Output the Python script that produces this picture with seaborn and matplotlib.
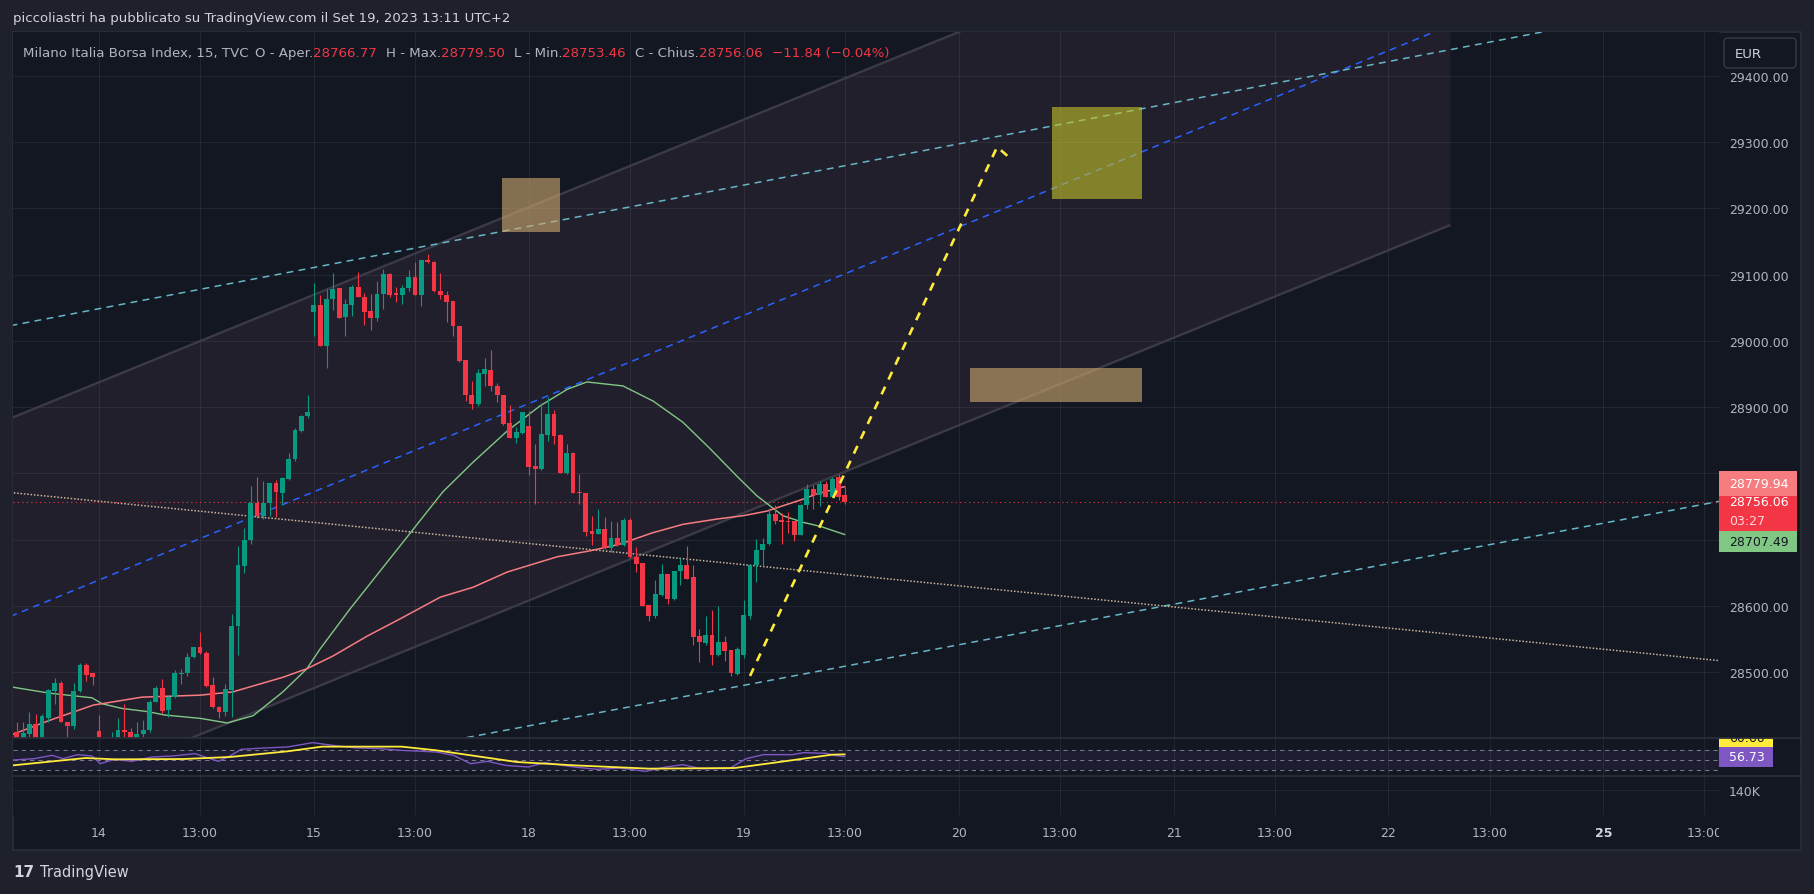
import matplotlib
matplotlib.use("Agg")
import matplotlib.pyplot as plt
from matplotlib.patches import Rectangle, FancyBboxPatch
import numpy as np
import pandas as pd
import seaborn as sns

# ---------------- data ----------------
bar_index = list(range(21, 153))  # 15-min bars, 34 bars per trading day, bar 34 = Sep 14 09:00

opens = [28409, 28401, 28407, 28422, 28401, 28431, 28472, 28484, 28425, 28418,
         28472, 28511, 28498, 28411, 28393, 28385, 28398, 28413, 28409, 28395,
         28406, 28412, 28455, 28476, 28442, 28462, 28497, 28498, 28522, 28537,
         28529, 28480, 28447, 28440, 28473, 28569, 28660, 28699, 28755, 28736,
         28755, 28785, 28771, 28792, 28821, 28864, 28887, 29044, 29054, 28993,
         29064, 29080, 29036, 29054, 29082, 29066, 29045, 29035, 29071, 29101,
         29072, 29069, 29080, 29097, 29070, 29122, 29119, 29076, 29070, 29061,
         29022, 28971, 28919, 28904, 28950, 28956, 28932, 28919, 28876, 28853,
         28861, 28871, 28811, 28806, 28858, 28889, 28858, 28801, 28830, 28772,
         28771, 28713, 28708, 28716, 28687, 28703, 28692, 28729, 28673, 28664,
         28601, 28585, 28617, 28648, 28610, 28652, 28661, 28643, 28554, 28544,
         28556, 28525, 28546, 28533, 28497, 28526, 28585, 28661, 28684, 28693,
         28738, 28729, 28728, 28728, 28707, 28752, 28776, 28767, 28784, 28764,
         28795, 28766.77]
highs = [28425, 28425, 28440, 28436, 28436, 28475, 28491, 28487, 28425, 28484,
         28513, 28513, 28498, 28435, 28398, 28409, 28431, 28451, 28416, 28425,
         28427, 28457, 28479, 28490, 28463, 28503, 28504, 28528, 28538, 28561,
         28532, 28493, 28449, 28482, 28588, 28691, 28717, 28781, 28794, 28789,
         28785, 28790, 28795, 28830, 28869, 28888, 28919, 29088, 29069, 29079,
         29102, 29080, 29063, 29085, 29104, 29072, 29071, 29090, 29109, 29103,
         29081, 29085, 29107, 29119, 29122, 29131, 29120, 29102, 29075, 29061,
         29022, 28971, 28939, 28958, 28974, 28987, 28936, 28919, 28903, 28870,
         28893, 28894, 28844, 28906, 28916, 28895, 28859, 28844, 28832, 28799,
         28771, 28736, 28746, 28734, 28728, 28727, 28732, 28733, 28689, 28664,
         28601, 28639, 28663, 28648, 28652, 28672, 28690, 28662, 28565, 28585,
         28594, 28599, 28555, 28533, 28537, 28608, 28662, 28701, 28702, 28748,
         28752, 28740, 28742, 28728, 28753, 28784, 28782, 28789, 28789, 28795,
         28799, 28779.50]
lows = [28395, 28398, 28402, 28398, 28396, 28424, 28451, 28424, 28401, 28414,
        28470, 28487, 28480, 28396, 28378, 28380, 28395, 28402, 28392, 28392,
        28402, 28410, 28454, 28438, 28432, 28461, 28482, 28494, 28521, 28527,
        28478, 28445, 28430, 28434, 28432, 28525, 28650, 28693, 28732, 28731,
        28736, 28734, 28752, 28790, 28818, 28863, 28884, 29008, 28992, 28959,
        29047, 29034, 29008, 29037, 29066, 29024, 29016, 29030, 29048, 29066,
        29058, 29055, 29076, 29069, 29053, 29118, 29074, 29063, 29029, 29007,
        28968, 28909, 28897, 28902, 28932, 28925, 28908, 28873, 28853, 28846,
        28860, 28797, 28753, 28805, 28849, 28845, 28800, 28799, 28770, 28753,
        28706, 28692, 28708, 28686, 28681, 28690, 28690, 28672, 28651, 28600,
        28577, 28582, 28615, 28603, 28609, 28631, 28641, 28540, 28515, 28541,
        28510, 28524, 28516, 28494, 28495, 28521, 28580, 28636, 28660, 28692,
        28723, 28693, 28710, 28698, 28707, 28746, 28746, 28750, 28764, 28764,
        28760, 28753.46]
closes = [28401, 28408, 28422, 28401, 28433, 28473, 28484, 28424, 28418, 28472,
          28511, 28496, 28493, 28400, 28385, 28395, 28413, 28409, 28398, 28407,
          28413, 28455, 28476, 28441, 28462, 28498, 28499, 28522, 28537, 28528,
          28479, 28447, 28440, 28475, 28569, 28661, 28700, 28755, 28736, 28755,
          28785, 28772, 28793, 28822, 28865, 28887, 28893, 29054, 28993, 29064,
          29078, 29035, 29055, 29082, 29066, 29044, 29035, 29071, 29101, 29070,
          29069, 29080, 29097, 29070, 29122, 29119, 29075, 29069, 29058, 29022,
          28970, 28918, 28904, 28951, 28957, 28932, 28918, 28874, 28853, 28862,
          28892, 28810, 28806, 28859, 28889, 28857, 28801, 28830, 28771, 28770,
          28712, 28709, 28716, 28687, 28703, 28692, 28729, 28673, 28663, 28600,
          28585, 28618, 28648, 28610, 28652, 28661, 28641, 28553, 28546, 28556,
          28526, 28546, 28532, 28498, 28535, 28586, 28662, 28684, 28694, 28738,
          28728, 28727, 28726, 28707, 28752, 28776, 28767, 28784, 28764, 28792,
          28764, 28756.06]

# moving averages (sampled along the curves)
ma_green_x = [20.4, 26.2, 32.9, 34.5, 37.6, 41.8, 44.4, 50.0, 54.3, 58.4, 63.1, 66.9, 69.0,
              73.7, 81.6, 88.4, 93.2, 98.6, 103.8, 108.1, 111.2, 116.9, 121.7, 126.4,
              130.7, 134.9, 138.1, 142.2, 145.4, 148.1, 152.0]
ma_green = [28477, 28468, 28461, 28452, 28445, 28440, 28435, 28430, 28423, 28434, 28470,
            28505, 28535, 28595, 28690, 28772, 28817, 28864, 28902, 28927, 28938, 28932,
            28909, 28877, 28837, 28796, 28766, 28736, 28726, 28720, 28707.49]
ma_red_x = [20.4, 26.2, 33.1, 40.8, 50.0, 55.2, 63.1, 66.9, 71.0, 76.4, 81.6, 88.0, 93.2,
            98.6, 101.7, 106.5, 111.7, 116.4, 121.5, 126.4, 131.8, 135.9, 139.7, 142.2,
            145.4, 147.6, 152.0]
ma_red = [28406, 28427, 28450, 28462, 28465, 28470, 28492, 28505, 28524, 28554, 28580,
          28613, 28628, 28651, 28660, 28674, 28683, 28693, 28710, 28723, 28731, 28736,
          28743, 28751, 28761, 28769, 28779.94]

# drawings (two anchor points each)
channel_x = [20.0, 247.8]
channel_upper = [28883, 29769]
channel_lower = [28289, 29175]
blue_x = [20.0, 290.5]
blue_y = [28584, 29644]
cyan_hi_x = [20.0, 290.5]
cyan_hi_y = [29023, 29518]
cyan_lo_x = [20.0, 290.5]
cyan_lo_y = [28271, 28758]
trend_x = [20.0, 290.5]
trend_y = [28771, 28517]
proj_x = [137.0, 176.1, 178.6]
proj_y = [28494, 29293, 29272]
box_left = [97.8, 171.8, 184.8]
box_right = [106.9, 199.0, 199.0]
box_bottom = [29164, 28908, 29214]
box_top = [29246, 28959, 29353]
box_colors = ["#d1ab70", "#d1ab70", "#c7c42a"]

# RSI pane
rsi_x = [20.4, 23.8, 26.6, 28.3, 30.6, 32.9, 34.2, 36.5, 39.2, 42.4, 45.6, 49.2, 52.9,
         54.7, 56.5, 60.1, 63.8, 67.8, 71.0, 74.7, 78.3, 81.9, 87.4, 90.1, 92.8, 95.5,
         98.3, 101.9, 104.6, 109.2, 112.8, 116.4, 120.5, 123.7, 126.4, 129.1, 133.7,
         136.4, 139.1, 143.7, 145.5, 149.1, 150.5, 152.0]
rsi_vals = [50, 52.7, 59.3, 52.7, 60.7, 58, 42.7, 51.3, 47.3, 56, 58, 62.7, 47.3, 58,
            71.3, 74, 76, 84.7, 79.3, 74, 72.7, 69.3, 66, 59.3, 42.7, 47.3, 39.3, 36,
            44.7, 36, 31.3, 34, 27.3, 36, 40.7, 32.7, 32.7, 52.7, 60.7, 60.7, 64.7, 63.3,
            59.0, 56.73]
rsi_ma_x = [20.4, 31.9, 36.5, 47.4, 54.7, 63.8, 69.3, 81.9, 87.4, 100.1, 109.2, 121.0,
            134.6, 140.9, 150.0, 152.0]
rsi_ma = [39.3, 54, 51.3, 52, 56, 67.3, 76.7, 76.7, 69.3, 46, 39.3, 32.7, 34, 44.7, 60.7, 61.3]

# axes
price_ticks = [28500, 28600, 28700, 28800, 28900, 29000, 29100, 29200, 29300, 29400]
hidden_price_labels = [28700, 28800]  # covered by the price-scale tags in the original
time_tick_pos = [34, 50, 68, 84, 102, 118, 136, 152, 170, 186, 204, 220, 238, 254, 272, 288]
time_tick_labels = ["14", "13:00", "15", "13:00", "18", "13:00", "19", "13:00",
                    "20", "13:00", "21", "13:00", "22", "13:00", "25", "13:00"]

# ---------------- style ----------------
sns.set_theme(style="dark")
plt.rcParams['font.family'] = ['DejaVu Sans']
plt.rcParams['axes.unicode_minus'] = False

OUTER = "#1e212b"
CHART_BG = "#131722"
SEP = "#2a2e39"
GRIDC = (1, 1, 1, 0.065)
TXT = "#b2b5be"
TXT_L = "#d1d4dc"
UP = "#089981"
DOWN = "#f23645"

W, H = 1814, 895
fig = plt.figure(figsize=(W / 100, H / 100), dpi=100, facecolor=OUTER)


def rect(x0, y0, x1, y1):
    return [x0 / W, 1 - y1 / H, (x1 - x0) / W, (y1 - y0) / H]


X_LIM = (20.4, 290.3)
Y_LIM = (28400.3, 29466.5)
RSI_LIM = (18, 94)

ax_bg = fig.add_axes([0, 0, 1, 1], zorder=-10)
ax_bg.set_xlim(0, W)
ax_bg.set_ylim(H, 0)
ax_bg.axis("off")
ax_bg.add_patch(Rectangle((12.5, 32.5), 1801 - 12.5, 851 - 32.5, fc=CHART_BG, ec=SEP, lw=1.2))

ax = fig.add_axes(rect(13, 33, 1719, 739))
ax_rsi = fig.add_axes(rect(13, 739, 1719, 777))
ax_vol = fig.add_axes(rect(13, 777, 1719, 816))
for a in (ax, ax_rsi, ax_vol):
    a.set_facecolor(CHART_BG)
    for s in a.spines.values():
        s.set_visible(False)
    a.grid(False)
    for t in time_tick_pos:
        a.axvline(t, color=GRIDC, lw=0.75, zorder=1)

# ---- main pane ----
for v in price_ticks:
    ax.axhline(v, color=GRIDC, lw=0.75, zorder=1)

ax.fill_between(channel_x, channel_lower, channel_upper, color="#221f2d", lw=0, zorder=0.5)
ax.plot(channel_x, channel_upper, color="#3b3a46", lw=1.7, zorder=2, solid_capstyle="butt")
ax.plot(channel_x, channel_lower, color="#3b3a46", lw=1.7, zorder=2, solid_capstyle="butt")

ax.plot(blue_x, blue_y, color="#2962ff", lw=1.1, dashes=(4.5, 3.5), zorder=2.5)
ax.plot(cyan_hi_x, cyan_hi_y, color="#67b6c6", lw=1.1, dashes=(4.5, 3.5), zorder=2.5)
ax.plot(cyan_lo_x, cyan_lo_y, color="#67b6c6", lw=1.1, dashes=(4.5, 3.5), zorder=2.5)
ax.plot(trend_x, trend_y, color="#c9b49b", lw=1.1, dashes=(1, 1.2), zorder=2.5)
ax.axhline(closes[-1], color=DOWN, lw=0.8, dashes=(1, 3), zorder=2.5)

for l, r_, b, t, c in zip(box_left, box_right, box_bottom, box_top, box_colors):
    ax.add_patch(Rectangle((l, b), r_ - l, t - b, fc=c, ec="none", alpha=0.6, zorder=3))

sns.lineplot(x=ma_green_x, y=ma_green, ax=ax, color="#81c784", lw=1.0, zorder=3.5,
             estimator=None, sort=False)
sns.lineplot(x=ma_red_x, y=ma_red, ax=ax, color="#f77c80", lw=1.1, zorder=3.5,
             estimator=None, sort=False)

df = pd.DataFrame({"i": bar_index, "o": opens, "h": highs, "l": lows, "c": closes})
cols = np.where(df.c >= df.o, UP, DOWN)
ax.vlines(df.i, df.l, df.h, colors=cols, lw=0.8, zorder=4)
ax.bar(df.i, np.maximum((df.c - df.o).abs(), 1.3), bottom=np.minimum(df.o, df.c),
       width=0.76, color=cols, lw=0, zorder=4.1)

ax.plot(proj_x, proj_y, color="#ffeb3b", lw=1.9, dashes=(3.2, 3.0), zorder=5)

ax.set_xlim(*X_LIM)
ax.set_ylim(*Y_LIM)
ax.set_xticks([])
ax.yaxis.tick_right()
ax.set_yticks(price_ticks)
ax.set_yticklabels(["" if v in hidden_price_labels else f"{v:.2f}" for v in price_ticks])
ax.tick_params(axis="y", length=0, pad=7.2, labelsize=9, labelcolor=TXT)
ax.set_xlabel("")
ax.set_ylabel("")

# ---- RSI pane ----
ax_rsi.axhspan(30, 70, color="#7e57c2", alpha=0.1, lw=0, zorder=0.8)
for v in (70, 50, 30):
    ax_rsi.axhline(v, color="#787b86", lw=0.75, dashes=(4, 4), zorder=1.5)
sns.lineplot(x=rsi_x, y=rsi_vals, ax=ax_rsi, color="#7e57c2", lw=1.0, zorder=3,
             estimator=None, sort=False)
sns.lineplot(x=rsi_ma_x, y=rsi_ma, ax=ax_rsi, color="#ffeb3b", lw=1.3, zorder=3.2,
             estimator=None, sort=False)
ax_rsi.set_xlim(*X_LIM)
ax_rsi.set_ylim(*RSI_LIM)
ax_rsi.set_xticks([])
ax_rsi.set_yticks([])
ax_rsi.set_xlabel("")
ax_rsi.set_ylabel("")

# ---- volume pane ----
ax_vol.set_xlim(*X_LIM)
ax_vol.set_ylim(0, 218)
ax_vol.axhline(140, color=GRIDC, lw=0.75)
ax_vol.yaxis.tick_right()
ax_vol.set_yticks([140])
ax_vol.set_yticklabels(["140K"])
ax_vol.tick_params(axis="y", length=0, pad=7.2, labelsize=9, labelcolor=TXT)
ax_vol.set_xticks(time_tick_pos)
ax_vol.set_xticklabels(time_tick_labels)
ax_vol.tick_params(axis="x", length=0, pad=8, labelsize=9, labelcolor=TXT)
for lab in ax_vol.get_xticklabels():
    if lab.get_text() == "25":
        lab.set_fontweight("bold")
        lab.set_color(TXT_L)

# ---- price column overlays ----
ax_p = fig.add_axes(rect(1719, 33, 1801, 739), zorder=5)
ax_p.set_xlim(0, 82)
ax_p.set_ylim(*Y_LIM)
ax_p.axis("off")
price_boxes = [(28766, 28803.5, "#f77c80"), (28713, 28766, DOWN), (28681, 28713, "#81c784")]
for b, t, c in price_boxes:
    ax_p.add_patch(Rectangle((0, b), 78, t - b, fc=c, ec="none"))
ax_p.text(10, 28784.5, f"{ma_red[-1]:.2f}", color="white", fontsize=9, va="center")
ax_p.text(10, 28757.5, f"{closes[-1]:.2f}", color="white", fontsize=9, va="center")
ax_p.text(10, 28729.5, "03:27", color="#ffd6d9", fontsize=9, va="center")
ax_p.text(10, 28696.5, f"{ma_green[-1]:.2f}", color="#131722", fontsize=9, va="center")

ax_rp = fig.add_axes(rect(1719, 739, 1801, 777), zorder=5)
ax_rp.set_xlim(0, 82)
ax_rp.set_ylim(*RSI_LIM)
ax_rp.axis("off")
ax_rp.add_patch(Rectangle((0, 76), 54, 30, fc="#ffeb3b", ec="none", clip_on=True))
ax_rp.add_patch(Rectangle((0, 36), 54, 40, fc="#7e57c2", ec="none"))
ax_rp.text(10, 95.5, f"{rsi_ma[-1] - 0.7:.2f}", color="#131722", fontsize=9, va="center",
           clip_on=True)
ax_rp.text(10, 56, f"{rsi_vals[-1]:.2f}", color="white", fontsize=9, va="center")

# ---- UI overlay (pixel coordinates) ----
ui = fig.add_axes([0, 0, 1, 1], zorder=10)
ui.set_xlim(0, W)
ui.set_ylim(H, 0)
ui.axis("off")
ui.add_patch(Rectangle((1719, 817), 81, 33, fc=CHART_BG, ec="none"))
ui.add_patch(FancyBboxPatch((1724, 39), 72, 30, boxstyle="round,pad=0,rounding_size=4",
                            fc=CHART_BG, ec="#363a45", lw=1.0))
ui.text(1735, 54.5, "EUR", color=TXT_L, fontsize=9.5, va="center")
ui.plot([13, 1801], [739, 739], color=SEP, lw=1.3)
ui.plot([13, 1801], [777, 777], color=SEP, lw=1.3)

rend = fig.canvas.get_renderer()


def width_of(txt):
    return txt.get_window_extent(renderer=rend).width


def fit(txt, target):
    txt.set_fontsize(txt.get_fontsize() * target / width_of(txt))
    return txt.get_fontsize()


title = ui.text(13, 18, "piccoliastri ha pubblicato su TradingView.com il Set 19, 2023 13:11 UTC+2",
                color=TXT_L, fontsize=9.5, va="center")
fit(title, 498)

# (text, colour, gap after in px)
legend_parts = [
    ("Milano Italia Borsa Index, 15, TVC", TXT, 6),
    ("O - Aper.", TXT, 0), (f"{opens[-1]:.2f}", DOWN, 9),
    ("H - Max.", TXT, 0), (f"{highs[-1]:.2f}", DOWN, 9),
    ("L - Min.", TXT, 0), (f"{lows[-1]:.2f}", DOWN, 9),
    ("C - Chius.", TXT, 0), (f"{closes[-1]:.2f}", DOWN, 9),
    ("\u221211.84 (\u22120.04%)", DOWN, 0),
]
first = ui.text(23, 53, legend_parts[0][0], color=legend_parts[0][1], fontsize=9.5, va="center")
fs = fit(first, 228)
x = 23 + width_of(first) + legend_parts[0][2]
for s, c, gap in legend_parts[1:]:
    t = ui.text(x, 53, s, color=c, fontsize=fs, va="center")
    x += width_of(t) + gap

ui.text(13, 873, "17", color=TXT_L, fontsize=11, fontweight="bold", va="center")
ui.text(40, 873, "TradingView", color=TXT_L, fontsize=10.5, va="center")

fig.savefig("out.png", dpi=100, facecolor=OUTER)
